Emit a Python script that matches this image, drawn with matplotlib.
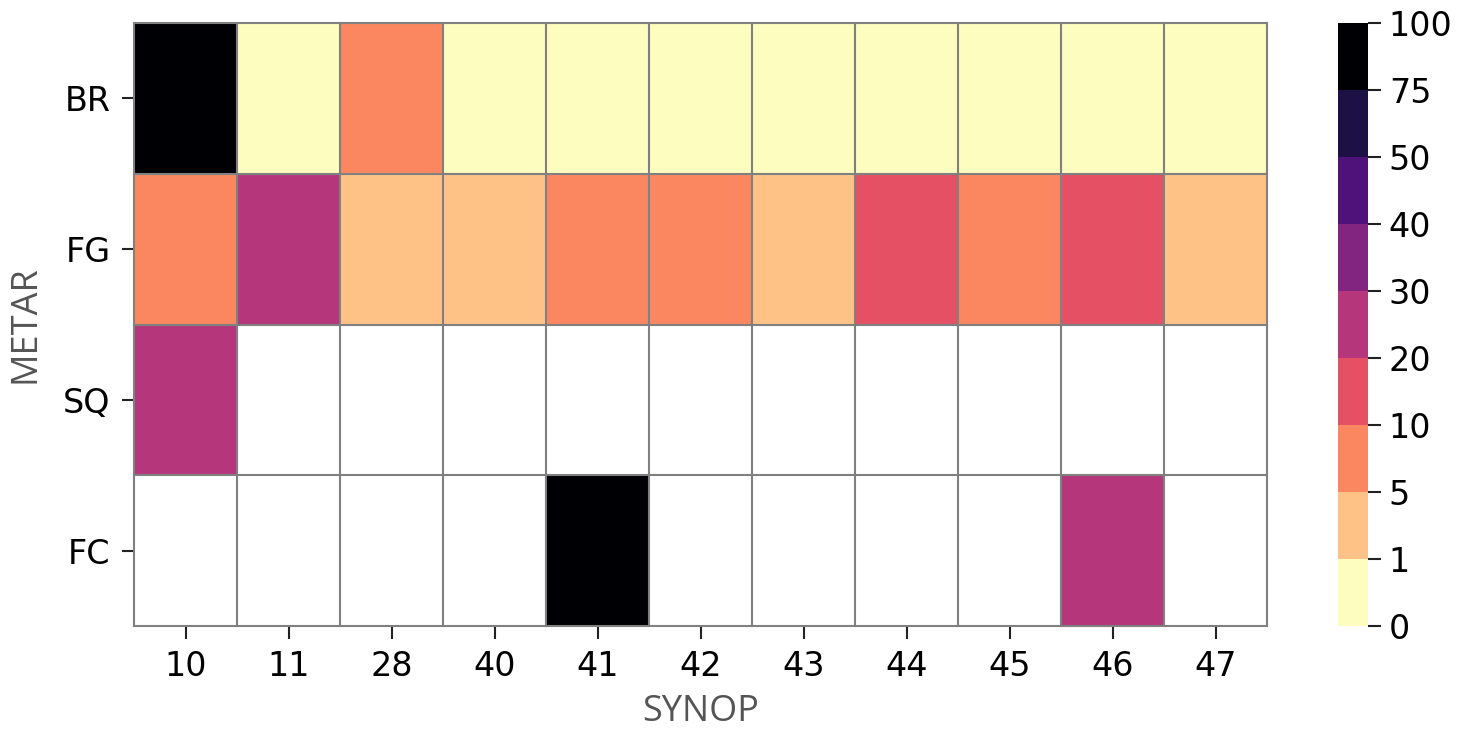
import numpy as np
import matplotlib
matplotlib.use("Agg")
from matplotlib import pyplot as plt
from matplotlib.colors import BoundaryNorm

synop = ["10", "11", "28", "40", "41", "42", "43", "44", "45", "46", "47"]
metar = ["BR", "FG", "SQ", "FC"]
nan = np.nan

br = [100, 0, 7, 0, 0, 0, 0, 0, 0, 0, 0]
fg = [8, 25, 3, 3, 7, 7, 3, 15, 7, 15, 3]
sq = [25, nan, nan, nan, nan, nan, nan, nan, nan, nan, nan]
fc = [nan, nan, nan, nan, 100, nan, nan, nan, nan, 25, nan]

bounds = [0, 1, 5, 10, 20, 30, 40, 50, 75, 100]

data = np.ma.masked_invalid(np.array([br, fg, sq, fc], dtype=float))

cmap = plt.get_cmap("magma_r", len(bounds) - 1)
norm = BoundaryNorm(bounds, cmap.N)

fig = plt.figure(figsize=(14.82, 7.38), dpi=100)
ax = fig.add_axes([134 / 1482, 1 - 626 / 738, (1267 - 134) / 1482, (626 - 23) / 738])
cax = fig.add_axes([1338 / 1482, 1 - 626 / 738, 30 / 1482, (626 - 23) / 738])

mesh = ax.pcolormesh(data, cmap=cmap, norm=norm)
ax.set_xlim(0, len(synop))
ax.set_ylim(len(metar), 0)

for x in range(len(synop) + 1):
    ax.axvline(x, color="gray", lw=1.5, clip_on=False)
for y in range(len(metar) + 1):
    ax.axhline(y, color="gray", lw=1.5, clip_on=False)

for s in ax.spines.values():
    s.set_visible(False)

ax.set_xticks(np.arange(len(synop)) + 0.5)
ax.set_xticklabels(synop)
ax.set_yticks(np.arange(len(metar)) + 0.5)
ax.set_yticklabels(metar)
ax.tick_params(labelsize=24, length=9, width=1.5, color="#222222", pad=8)

ax.set_xlabel("SYNOP", fontsize=26, family="Open Sans", color="#555555", labelpad=8)
ax.set_ylabel("METAR", fontsize=26, family="Open Sans", color="#555555", labelpad=14)

cb = fig.colorbar(mesh, cax=cax, ticks=bounds, spacing="uniform")
cb.outline.set_visible(False)
cb.ax.tick_params(labelsize=24, length=9, width=1.5, color="#222222", pad=6)

fig.savefig("out.png", dpi=100)
